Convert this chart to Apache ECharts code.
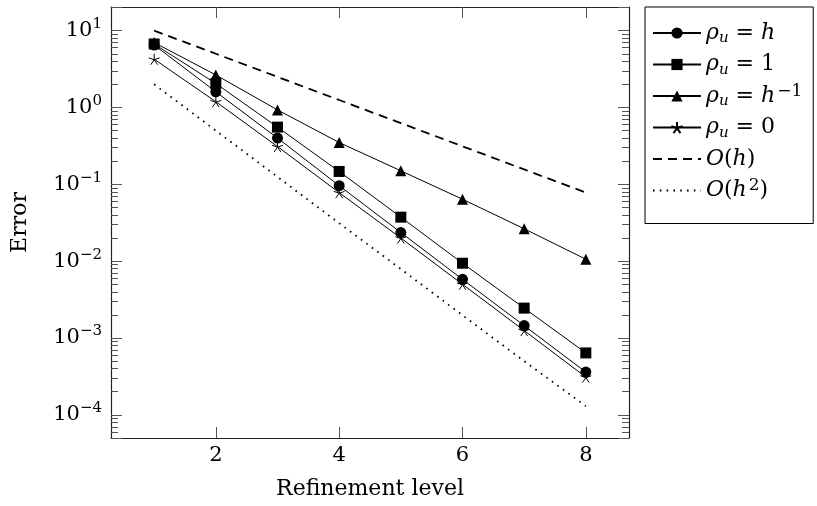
<!DOCTYPE html>
<html>
<head>
<meta charset="utf-8">
<script src="https://cdn.jsdelivr.net/npm/echarts@6/dist/echarts.min.js"></script>
<style>html,body{margin:0;padding:0;background:#fff}#c{width:817px;height:506px}</style>
</head>
<body>
<div id="c"></div>
<script>
// ---- data ----
var levels = [1, 2, 3, 4, 5, 6, 7, 8];
var rhoH   = [6.5, 1.6, 0.40, 0.096, 0.0236, 0.0058, 0.00145, 0.00036];
var rho1   = [6.7, 2.05, 0.555, 0.147, 0.0374, 0.0094, 0.00245, 0.00064];
var rhoInv = [7.0, 2.65, 0.93, 0.35, 0.150, 0.064, 0.0264, 0.0106];
var rho0   = [4.25, 1.19, 0.31, 0.078, 0.0200, 0.0050, 0.00125, 0.00031];
var orderH  = [10, 5, 2.5, 1.25, 0.625, 0.3125, 0.15625, 0.078125];
var orderH2 = [2, 0.5, 0.125, 0.0312, 0.0079, 0.00198, 0.00050, 0.00013];
var xTicks = [2, 4, 6, 8];
var seriesNames = ['rho_u = h', 'rho_u = 1', 'rho_u = h^-1', 'rho_u = 0', 'O(h)', 'O(h^2)'];
var legendLabels = {
  'rho_u = h':    '{i|ρ}{sub|u}{t| = }{i|h}',
  'rho_u = 1':    '{i|ρ}{sub|u}{t| = 1}',
  'rho_u = h^-1': '{i|ρ}{sub|u}{t| = }{i|h}{sup|−1}',
  'rho_u = 0':    '{i|ρ}{sub|u}{t| = 0}',
  'O(h)':         '{o|O}{t|(}{i|h}{t|)}',
  'O(h^2)':       '{o|O}{t|(}{i|h}{sup|2}{t|)}'
};

var yMinor = [];
for (var k = -5; k <= 1; k++) {
  for (var m = 2; m <= 9; m++) {
    var v = m * Math.pow(10, k);
    if (v > 5e-5 && v < 20.3) yMinor.push(v);
  }
}

function pairs(ys) { return levels.map(function (x, i) { return [x, ys[i]]; }); }

var FONT = 'DejaVu Serif';
var starPath = 'path://M0 -10 L0 0 M0 0 L9.51 -3.09 M0 0 L5.88 8.09 M0 0 L-5.88 8.09 M0 0 L-9.51 -3.09';
var Y_MIN = 5e-5, Y_MAX = 20.3;

function expLabel(v) {
  var e = Math.log10(v), r = Math.round(e);
  if (Math.abs(e - r) > 1e-6) return '';
  return '{b|10}{sup|' + (r < 0 ? '−' + (-r) : String(r)) + '}';
}

var tickStyle = { color: '#555', width: 1 };
var lineAxis = { show: true, lineStyle: { color: '#222', width: 1.2 } };

var chart = echarts.init(document.getElementById('c'), null, { renderer: 'canvas' });
var option = {
  animation: false,
  backgroundColor: '#fff',
  grid: { left: 111, right: 188, top: 7, bottom: 68 },
  xAxis: [
    {
      type: 'value', min: 0.3, max: 8.7, position: 'bottom',
      axisLine: lineAxis,
      axisTick: { show: true, inside: true, length: 11, lineStyle: tickStyle, customValues: xTicks },
      axisLabel: { show: true, margin: 7, fontFamily: FONT, fontSize: 21, color: '#000', customValues: xTicks,
        formatter: function (v) { return String(v); } },
      splitLine: { show: false },
      name: 'Refinement level', nameLocation: 'middle', nameGap: 40,
      nameTextStyle: { fontFamily: FONT, fontSize: 22, color: '#000' }
    },
    {
      type: 'value', min: 0.3, max: 8.7, position: 'top',
      axisLine: lineAxis,
      axisTick: { show: true, inside: true, length: 11, lineStyle: tickStyle, customValues: xTicks },
      axisLabel: { show: false },
      splitLine: { show: false }
    }
  ],
  yAxis: [
    {
      type: 'log', min: Y_MIN, max: Y_MAX, position: 'left',
      axisLine: lineAxis,
      axisTick: { show: true, inside: true, length: 11, lineStyle: tickStyle },
      minorTick: { show: false },
      axisLabel: {
        show: true, margin: 9, color: '#000', fontFamily: FONT, fontSize: 21,
        formatter: expLabel,
        rich: {
          b: { fontFamily: FONT, fontSize: 21, lineHeight: 28, color: '#000' },
          sup: { fontFamily: FONT, fontSize: 15, lineHeight: 15, verticalAlign: 'top', color: '#000' }
        }
      },
      splitLine: { show: false },
      name: 'Error', nameLocation: 'middle', nameGap: 80, nameRotate: 90,
      nameTextStyle: { fontFamily: FONT, fontSize: 22, color: '#000' }
    },
    {
      type: 'log', min: Y_MIN, max: Y_MAX, position: 'left',
      axisLine: { show: false },
      axisTick: { show: true, inside: true, length: 7, lineStyle: tickStyle, customValues: yMinor },
      axisLabel: { show: false },
      splitLine: { show: false }
    },
    {
      type: 'log', min: Y_MIN, max: Y_MAX, position: 'right',
      axisLine: lineAxis,
      axisTick: { show: true, inside: true, length: 11, lineStyle: tickStyle },
      axisLabel: { show: false },
      splitLine: { show: false }
    },
    {
      type: 'log', min: Y_MIN, max: Y_MAX, position: 'right',
      axisLine: { show: false },
      axisTick: { show: true, inside: true, length: 7, lineStyle: tickStyle, customValues: yMinor },
      axisLabel: { show: false },
      splitLine: { show: false }
    }
  ],
  legend: {
    orient: 'vertical', left: 645, top: 7,
    data: [
      { name: seriesNames[0] },
      { name: seriesNames[1] },
      { name: seriesNames[2] },
      { name: seriesNames[3] },
      { name: seriesNames[4], itemStyle: { opacity: 0 } },
      { name: seriesNames[5], itemStyle: { opacity: 0 } }
    ],
    itemWidth: 48, itemHeight: 14, itemGap: 5.5,
    padding: [13, 11, 20, 7],
    borderColor: '#000', borderWidth: 1, backgroundColor: '#fff',
    formatter: function (name) { return legendLabels[name]; },
    textStyle: {
      fontFamily: FONT, fontSize: 22, color: '#000', lineHeight: 26,
      rich: {
        t: { fontFamily: FONT, fontSize: 22, lineHeight: 26, color: '#000' },
        i: { fontFamily: FONT, fontSize: 22, lineHeight: 26, fontStyle: 'italic', color: '#000' },
        o: { fontFamily: FONT, fontSize: 22, lineHeight: 26, fontStyle: 'italic', color: '#000' },
        sub: { fontFamily: FONT, fontSize: 15, lineHeight: 15, fontStyle: 'italic', verticalAlign: 'bottom', color: '#000' },
        sup: { fontFamily: FONT, fontSize: 17, lineHeight: 17, verticalAlign: 'top', color: '#000', padding: [0, 0, 0, 2] }
      }
    }
  },
  series: [
    { name: seriesNames[0], type: 'line', data: pairs(rhoH), symbol: 'circle', symbolSize: 11,
      lineStyle: { color: '#000', width: 1 }, itemStyle: { color: '#000' } },
    { name: seriesNames[1], type: 'line', data: pairs(rho1), symbol: 'rect', symbolSize: 11,
      lineStyle: { color: '#000', width: 1 }, itemStyle: { color: '#000' } },
    { name: seriesNames[2], type: 'line', data: pairs(rhoInv), symbol: 'triangle', symbolSize: 11,
      lineStyle: { color: '#000', width: 1 }, itemStyle: { color: '#000' } },
    { name: seriesNames[3], type: 'line', data: pairs(rho0), symbol: starPath, symbolSize: 11,
      lineStyle: { color: '#000', width: 1 }, itemStyle: { color: 'none', borderColor: '#000', borderWidth: 1 } },
    { name: seriesNames[4], type: 'line', data: pairs(orderH), symbol: 'none', showSymbol: false,
      lineStyle: { color: '#000', width: 1.8, type: [9, 6] }, itemStyle: { color: '#000' } },
    { name: seriesNames[5], type: 'line', data: pairs(orderH2), symbol: 'none', showSymbol: false,
      lineStyle: { color: '#000', width: 1.8, type: [1.6, 5.2] }, itemStyle: { color: '#000' } }
  ]
};
chart.setOption(option);
</script>
</body>
</html>
